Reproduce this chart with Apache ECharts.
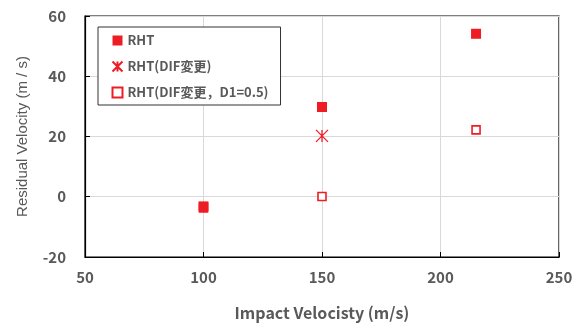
<!DOCTYPE html>
<html>
<head>
<meta charset="utf-8">
<script src="https://cdn.jsdelivr.net/npm/echarts@6/dist/echarts.min.js"></script>
<style>
  html, body { margin: 0; padding: 0; background: #fff; }
  #chart { width: 582px; height: 326px; }
</style>
</head>
<body>
<div id="chart"></div>
<script>
// 残留速度 vs 衝突速度
const seriesNames = ["RHT", "RHT(DIF変更)", "RHT(DIF変更，D1=0.5)"];
const rhtX = [100, 150, 215];
const rhtY = [-3.2, 29.8, 54.1];
const difX = [150];
const difY = [20.2];
const d1X = [100, 150, 215];
const d1Y = [-3.7, 0.1, 22.2];
const xTicks = [50, 100, 150, 200, 250];
const yTicks = [-20, 0, 20, 40, 60];

const red = "#EE1C25";
const textGray = "#595959";
const font = "'Noto Sans CJK JP', 'Noto Sans', sans-serif";

const toPts = (xs, ys) => xs.map((x, i) => [x, ys[i]]);

const chart = echarts.init(document.getElementById("chart"));
const option = {
  animation: false,
  textStyle: { fontFamily: font },
  grid: {
    left: 85,
    right: 23,
    top: 16,
    bottom: 62,
    show: true,
    borderColor: "#000",
    borderWidth: 1.2
  },
  legend: {
    orient: "vertical",
    left: 98,
    top: 27,
    padding: [7, 12, 6, 12],
    itemGap: 12,
    itemWidth: 10,
    itemHeight: 10,
    borderColor: "#333",
    borderWidth: 1,
    backgroundColor: "#fff",
    textStyle: { color: textGray, fontSize: 13, fontWeight: "bold", fontFamily: font },
    data: seriesNames
  },
  xAxis: {
    type: "value",
    min: xTicks[0],
    max: xTicks[xTicks.length - 1],
    interval: 50,
    name: "Impact Velocisty (m/s)",
    nameLocation: "middle",
    nameGap: 48,
    nameTextStyle: { color: textGray, fontSize: 16, fontWeight: "bold" },
    axisLine: { show: true, onZero: false, lineStyle: { color: "#000", width: 1.2 } },
    axisTick: { show: true, inside: true, length: 5, lineStyle: { color: "#000" } },
    axisLabel: { color: textGray, fontSize: 15, fontWeight: "bold", margin: 13 },
    splitLine: { show: true, lineStyle: { color: "#D9D9D9", width: 1 } }
  },
  yAxis: {
    type: "value",
    min: yTicks[0],
    max: yTicks[yTicks.length - 1],
    interval: 20,
    name: "Residual Velocity (m / s)",
    nameLocation: "middle",
    nameGap: 55,
    nameTextStyle: { color: textGray, fontSize: 15, fontWeight: "normal", fontFamily: "'Liberation Sans', Arial, sans-serif" },
    axisLine: { show: true, onZero: false, lineStyle: { color: "#000", width: 1.2 } },
    axisTick: { show: true, inside: true, length: 5, lineStyle: { color: "#000" } },
    axisLabel: { color: textGray, fontSize: 15, fontWeight: "bold", margin: 19 },
    splitLine: { show: true, lineStyle: { color: "#D9D9D9", width: 1 } }
  },
  series: [
    {
      name: seriesNames[2],
      type: "scatter",
      symbol: "rect",
      symbolSize: 8,
      itemStyle: { color: "#fff", borderColor: red, borderWidth: 1.6, opacity: 1 },
      data: toPts(d1X, d1Y),
      z: 2
    },
    {
      name: seriesNames[1],
      type: "scatter",
      symbol: "path://M0,0L10,10M10,0L0,10M5,0L5,10",
      symbolSize: 12,
      itemStyle: { color: "none", borderColor: red, borderWidth: 1.3, opacity: 1 },
      data: toPts(difX, difY),
      z: 3
    },
    {
      name: seriesNames[0],
      type: "scatter",
      symbol: "rect",
      symbolSize: 10,
      itemStyle: { color: red, opacity: 1 },
      data: toPts(rhtX, rhtY),
      z: 4
    }
  ]
};
chart.setOption(option);
</script>
</body>
</html>
